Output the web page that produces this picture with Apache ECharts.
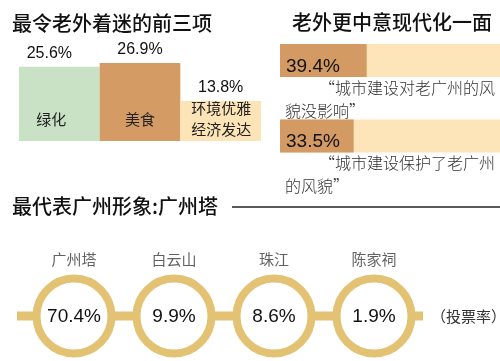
<!DOCTYPE html>
<html>
<head>
<meta charset="utf-8">
<script src="https://cdn.jsdelivr.net/npm/echarts@6/dist/echarts.min.js"></script>
<style>html,body{margin:0;padding:0;background:#fff;}#c{width:500px;height:361px;}</style>
</head>
<body>
<div id="c"></div>
<script>
// ---- data ----
var title1 = '最令老外着迷的前三项';
var title2 = '老外更中意现代化一面';
var title3 = '最代表广州形象:广州塔';
var topCats = ['绿化', '美食', '环境优雅\n经济发达'];
var topVals = [25.6, 26.9, 13.8];
var modernVals = [39.4, 33.5];
var modernQuotes = [['“城市建设对老广州的风', '貌没影响”'], ['“城市建设保护了老广州', '的风貌”']];
var placeNames = ['广州塔', '白云山', '珠江', '陈家祠'];
var placeVals = [70.4, 9.9, 8.6, 1.9];
var voteNote = '（投票率）';

var CJK = '"Noto Sans CJK SC", sans-serif';
var NUM = '"Liberation Sans", Arial, "Noto Sans CJK SC", sans-serif';
var topColors = ['#c9e2c5', '#d59b64', '#fde4b6'];
var gold = '#e4c274';

var chart = echarts.init(document.getElementById('c'), null, {renderer: 'canvas'});

var ringX0 = -0.57, ringX1 = 3.49;

var graphics = [
  {type: 'text', left: 12, top: 13, style: {text: title1, font: '500 20px ' + CJK, fill: '#111'}},
  {type: 'text', left: 292, top: 12, style: {text: title2, font: '500 20px ' + CJK, fill: '#111'}},
  {type: 'text', left: 12, top: 196, style: {text: title3, font: '500 20px ' + CJK, fill: '#111'}},
  {type: 'line', shape: {x1: 232, y1: 207, x2: 500, y2: 207}, style: {stroke: '#222', lineWidth: 1.5}},
  {type: 'text', left: 431, top: 309, style: {text: voteNote, font: '15px ' + CJK, fill: '#333'}}
];
var quoteTops = [80, 155];
modernQuotes.forEach(function (q, i) {
  graphics.push({type: 'text', left: 319, top: quoteTops[i], style: {text: q[0], font: '300 16px ' + CJK, fill: '#333'}});
  graphics.push({type: 'text', left: 285, top: quoteTops[i] + 23, style: {text: q[1], font: '300 16px ' + CJK, fill: '#333'}});
});

var insideLabels = [
  {position: 'insideBottom', distance: 14, offset: [-8, 0]},
  {position: 'insideBottom', distance: 14},
  {position: 'insideBottomLeft', distance: 1, offset: [10, 0], align: 'left', lineHeight: 21}
];

chart.setOption({
  animation: false,
  graphic: graphics,
  grid: [
    {left: 19, width: 242, top: 54, height: 87},
    {left: 280, right: 0, top: 22.75, height: 151},
    {left: 17, right: 77, top: 276, height: 80}
  ],
  xAxis: [
    {gridIndex: 0, type: 'category', data: topCats, show: false},
    {gridIndex: 1, type: 'value', min: 0, max: 100, show: false},
    {gridIndex: 2, type: 'value', min: ringX0, max: ringX1, show: false}
  ],
  yAxis: [
    {gridIndex: 0, type: 'value', min: 0, max: 30, show: false},
    {gridIndex: 1, type: 'category', inverse: true, data: ['a', 'b'], show: false},
    {gridIndex: 2, type: 'value', min: -1, max: 1, show: false}
  ],
  series: [
    {
      type: 'bar', xAxisIndex: 0, yAxisIndex: 0,
      data: topVals.map(function (v, i) {
        return {value: v, itemStyle: {color: topColors[i]},
          label: i === 0 ? {offset: [-10, 0]} : {}};
      }),
      label: {show: true, position: 'top', distance: 5, formatter: '{c}%',
        fontFamily: NUM, fontSize: 16, color: '#111'}
    },
    {
      type: 'bar', xAxisIndex: 0, yAxisIndex: 0, barGap: '-100%', barCategoryGap: '0%',
      silent: true,
      data: topVals.map(function (v, i) {
        return {value: v, name: topCats[i], itemStyle: {color: 'rgba(0,0,0,0)'}, label: insideLabels[i]};
      }),
      label: {show: true, formatter: '{b}', fontFamily: CJK, fontSize: 15, color: '#222'}
    },
    {
      type: 'bar', xAxisIndex: 1, yAxisIndex: 1, barWidth: 33, silent: true,
      data: modernVals.map(function () { return 100; }),
      itemStyle: {color: '#fde5b9'}
    },
    {
      type: 'bar', xAxisIndex: 1, yAxisIndex: 1, barWidth: 33, barGap: '-100%',
      data: modernVals,
      itemStyle: {color: '#d39a63'},
      label: {show: true, position: 'insideLeft', distance: 6, offset: [0, 6], formatter: '{c}%',
        fontFamily: NUM, fontSize: 19, color: '#111'}
    },
    {
      type: 'line', xAxisIndex: 2, yAxisIndex: 2, symbol: 'none', silent: true, z: 1,
      data: [[ringX0, 0], [ringX1, 0]],
      lineStyle: {color: gold, width: 9}
    },
    {
      type: 'scatter', xAxisIndex: 2, yAxisIndex: 2, z: 3,
      symbol: 'circle', symbolSize: 75,
      data: placeVals.map(function (v, i) { return [i, 0, v]; }),
      itemStyle: {color: '#fff', borderColor: gold, borderWidth: 8, opacity: 1},
      label: {show: true, position: 'inside', formatter: function (p) { return p.value[2] + '%'; },
        fontFamily: NUM, fontSize: 19, color: '#111', offset: [0, 1]}
    },
    {
      type: 'scatter', xAxisIndex: 2, yAxisIndex: 2, z: 4, silent: true,
      symbol: 'circle', symbolSize: 75,
      data: placeNames.map(function (n, i) { return {value: [i, 0], name: n}; }),
      itemStyle: {color: 'rgba(0,0,0,0)'},
      label: {show: true, position: 'top', distance: 12, formatter: '{b}',
        fontFamily: CJK, fontSize: 15, color: '#3a3a3a'}
    }
  ]
});
</script>
</body>
</html>
